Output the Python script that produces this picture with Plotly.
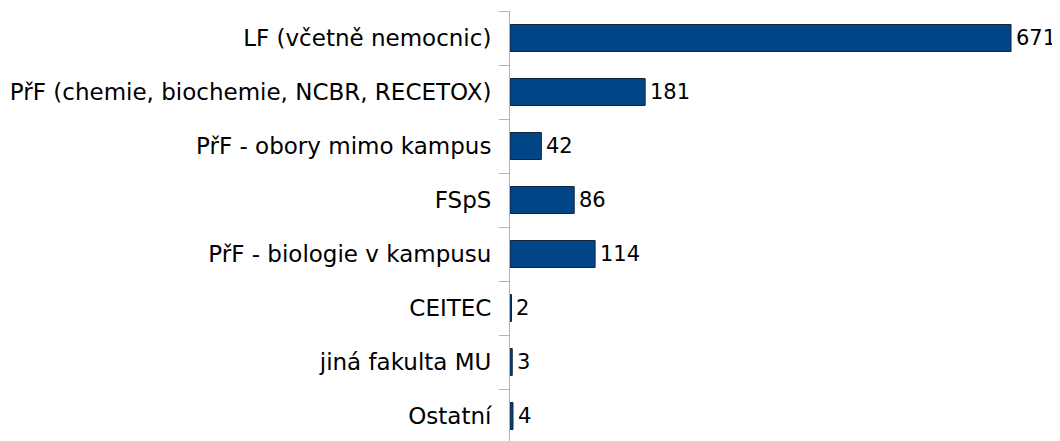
import plotly.graph_objects as go

categories = [
    "LF (včetně nemocnic)",
    "PřF (chemie, biochemie, NCBR, RECETOX)",
    "PřF - obory mimo kampus",
    "FSpS",
    "PřF - biologie v kampusu",
    "CEITEC",
    "jiná fakulta MU",
    "Ostatní",
]
values = [671, 181, 42, 86, 114, 2, 3, 4]

font_family = "DejaVu Sans"

fig = go.Figure(
    go.Bar(
        y=categories,
        x=values,
        orientation="h",
        width=0.5,
        marker=dict(color="#004586", line=dict(color="#14263d", width=1)),
        cliponaxis=False,
    )
)

for cat, val in zip(categories, values):
    fig.add_annotation(
        x=val,
        y=cat,
        text=str(val),
        showarrow=False,
        xanchor="left",
        yanchor="middle",
        xshift=3,
        font=dict(family=font_family, size=21, color="#000000"),
    )

fig.update_layout(
    width=1052,
    height=433,
    margin=dict(l=502, r=0, t=3, b=0, autoexpand=False),
    paper_bgcolor="white",
    plot_bgcolor="white",
    showlegend=False,
    font=dict(family=font_family, size=22, color="#000000"),
    xaxis=dict(
        range=[0, 736.6],
        showgrid=False,
        zeroline=False,
        showticklabels=False,
        ticks="",
        showline=False,
        automargin=False,
    ),
    yaxis=dict(
        type="category",
        range=[7.463, -0.5],
        showgrid=False,
        zeroline=False,
        showline=True,
        linecolor="#b3b3b3",
        linewidth=1,
        ticks="outside",
        tickson="boundaries",
        ticklen=10,
        tickcolor="#b3b3b3",
        ticklabelstandoff=13,
        automargin=False,
        tickfont=dict(family=font_family, size=23, color="#000000"),
    ),
    bargap=0.5,
)

fig.write_html("out.html")
